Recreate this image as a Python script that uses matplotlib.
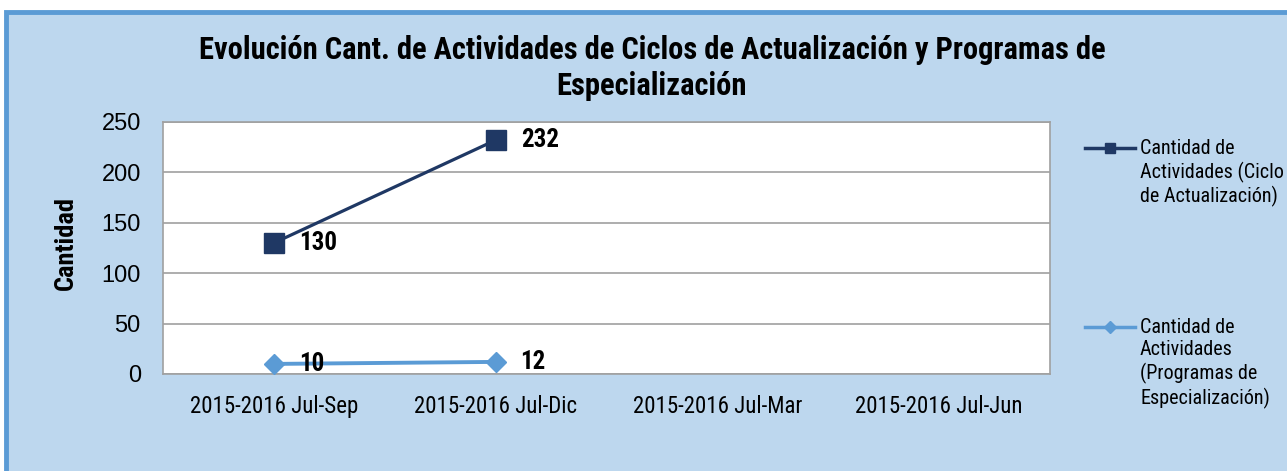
import matplotlib
matplotlib.use("Agg")
import matplotlib.pyplot as plt
from matplotlib.lines import Line2D
from matplotlib.patches import Rectangle
import numpy as np

categories = ["2015-2016 Jul-Sep", "2015-2016 Jul-Dic", "2015-2016 Jul-Mar", "2015-2016 Jul-Jun"]
ciclo = [130, 232, np.nan, np.nan]
programas = [10, 12, np.nan, np.nan]
series_labels = ["Cantidad de\nActividades (Ciclo\nde Actualización)",
                 "Cantidad de\nActividades\n(Programas de\nEspecialización)"]
title = "Evolución Cant. de Actividades de Ciclos de Actualización y Programas de\nEspecialización"
yticks = [0, 50, 100, 150, 200, 250]

NARROW = ["Roboto Condensed", "Liberation Sans Narrow", "Arial Narrow", "Liberation Sans", "DejaVu Sans"]
REG = ["Liberation Sans", "DejaVu Sans"]
BG = "#BDD7EE"
DARK = "#1F3864"
LIGHT = "#5B9BD5"

W, H = 1287, 471
fig = plt.figure(figsize=(W / 100, H / 100), dpi=100)
fig.patch.set_facecolor("white")
# chart area background with border
bgrect = Rectangle((6 / W, -0.05), 1.1, (H - 12) / H + 0.05, transform=fig.transFigure,
                   facecolor=BG, edgecolor=LIGHT, linewidth=3.5, zorder=-10)
fig.patches.append(bgrect)

ax = fig.add_axes([163 / W, (H - 374) / H, (1050 - 163) / W, (374 - 122) / H])
ax.set_facecolor("white")
x = np.arange(len(categories))
ax.plot(x, ciclo, color=DARK, lw=2.3, marker="s", ms=14, mfc=DARK, mec=DARK, zorder=3)
ax.plot(x, programas, color=LIGHT, lw=2.8, marker="D", ms=10, mfc=LIGHT, mec=LIGHT, zorder=3)

for xs, ys in ((x, ciclo), (x, programas)):
    for xi, yi in zip(xs, ys):
        if not np.isnan(yi):
            ax.annotate(f"{yi:g}", (xi, yi), xytext=(18, 0), textcoords="offset points",
                        ha="left", va="center", fontsize=18, fontweight="bold",
                        family=NARROW, color="black", zorder=4)

ax.set_xlim(-0.5, len(categories) - 0.5)
ax.set_ylim(0, 250)
ax.set_yticks(yticks)
ax.set_yticklabels([str(t) for t in yticks], family=REG, fontsize=17)
ax.set_xticks(x)
ax.set_xticklabels(categories, family=NARROW, fontsize=16.5)
ax.tick_params(axis="both", length=0)
ax.tick_params(axis="y", pad=16)
ax.tick_params(axis="x", pad=15)
ax.grid(axis="y", color="#A0A0A0", lw=1.2)
ax.set_axisbelow(True)
for s in ax.spines.values():
    s.set_color("#A0A0A0")
    s.set_linewidth(1.2)
ax.set_ylabel("Cantidad", family=NARROW, fontsize=19, fontweight="bold")
ax.yaxis.set_label_coords((78 - 163) / 887, 0.52)

fig.text(652 / W, 1 - 68 / H, title, ha="center", va="center", fontsize=22,
         fontweight="bold", family=NARROW, linespacing=1.22)

# legend
legend_specs = [(DARK, "s", 7, 148), (LIGHT, "D", 6, 327)]
for (col, mk, ms, yy), lab in zip(legend_specs, series_labels):
    yf = 1 - yy / H
    fig.add_artist(Line2D([1085 / W, 1135 / W], [yf, yf], transform=fig.transFigure,
                          color=col, lw=2.5))
    fig.add_artist(Line2D([1110 / W], [yf], transform=fig.transFigure, color=col,
                          marker=mk, ms=ms, lw=0))
    fig.text(1140 / W, yf + 9 / H, lab, ha="left", va="top", fontsize=14.5,
             family=NARROW, linespacing=1.22)

fig.savefig("out.png", dpi=100, facecolor=fig.get_facecolor())
